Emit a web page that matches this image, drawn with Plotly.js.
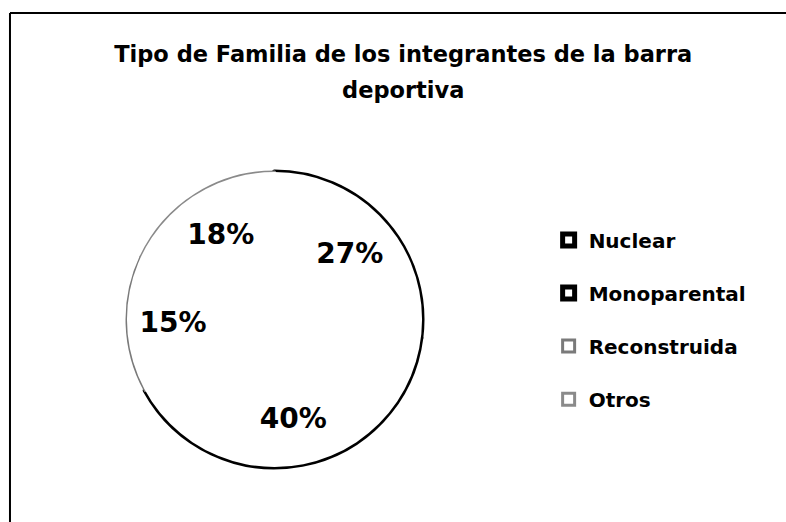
<!DOCTYPE html>
<html><head><meta charset="utf-8">
<script src="https://cdn.plot.ly/plotly-3.0.1.min.js"></script>
<style>html,body{margin:0;padding:0;background:#fff}#chart{width:786px;height:522px}</style>
</head><body><div id="chart"></div>
<script>
const categories = ['Nuclear', 'Monoparental', 'Reconstruida', 'Otros'];
const values = [27, 40, 15, 18];
const titleLines = ['Tipo de Familia de los integrantes de la barra', 'deportiva'];

const edgeColors = ['#000', '#000', '#7a7a7a', '#8a8a8a'];
const edgeWidths = [5, 5, 3, 3];
const whites = categories.map(() => '#ffffff');
const dom = {x: [0.1616, 0.5369], y: [0.1054, 0.6705]};
const span = (t, s, extra) => `<span style="font-size:${s}px${extra || ''}">${t}</span>`;
const FONT = 'DejaVu Sans';
const total = values.reduce((a, b) => a + b, 0);

// 1: slices with their edge colours (gives the legend symbols and the outer circle)
const outlinePie = {
  type: 'pie', labels: categories.map(c => span(c, 20, ';baseline-shift:7px')), values: values,
  sort: false, direction: 'clockwise', rotation: 0, domain: dom,
  marker: {colors: whites, line: {color: edgeColors, width: edgeWidths}},
  textinfo: 'none', hoverinfo: 'skip', showlegend: true
};
// 2: white disc hiding the slice separators
const maskPie = {
  type: 'pie', labels: ['total'], values: [total], sort: false, domain: dom,
  marker: {colors: ['#ffffff'], line: {width: 0}},
  textinfo: 'none', hoverinfo: 'skip', showlegend: false
};
// 3: percentage labels
const labelPie = {
  type: 'pie', labels: categories, values: values, hole: 0.36,
  sort: false, direction: 'clockwise', rotation: 0, domain: dom,
  marker: {colors: categories.map(() => 'rgba(0,0,0,0)'), line: {width: 0}},
  textinfo: 'percent', textposition: 'inside', insidetextorientation: 'horizontal',
  textfont: {family: FONT, size: 28, color: '#000', weight: 'bold'},
  hoverinfo: 'skip', showlegend: false
};

const layout = {
  width: 786, height: 522,
  margin: {l: 0, r: 0, t: 0, b: 0},
  paper_bgcolor: '#fff', plot_bgcolor: '#fff',
  title: {
    text: titleLines.map(l => span(l, 22.5)).join('<br>'),
    font: {family: FONT, size: 27.7, weight: 'bold', color: '#000'},
    x: 0.513, xanchor: 'center', xref: 'container',
    y: 0.882, yanchor: 'top', yref: 'container'
  },
  legend: {
    x: 0.698, y: 0.6006, xanchor: 'left', yanchor: 'top',
    font: {family: FONT, size: 38.5, weight: 'bold', color: '#000'},
    bgcolor: 'rgba(0,0,0,0)', borderwidth: 0
  },
  shapes: [
    {type: 'line', xref: 'paper', yref: 'paper', x0: 0.0127, x1: 0.0127, y0: 0, y1: 0.975, line: {color: '#000', width: 2}},
    {type: 'line', xref: 'paper', yref: 'paper', x0: 0.0127, x1: 1, y0: 0.975, y1: 0.975, line: {color: '#000', width: 2}}
  ]
};

Plotly.newPlot('chart', [outlinePie, maskPie, labelPie], layout, {displayModeBar: false, staticPlot: true});
</script>
</body></html>
